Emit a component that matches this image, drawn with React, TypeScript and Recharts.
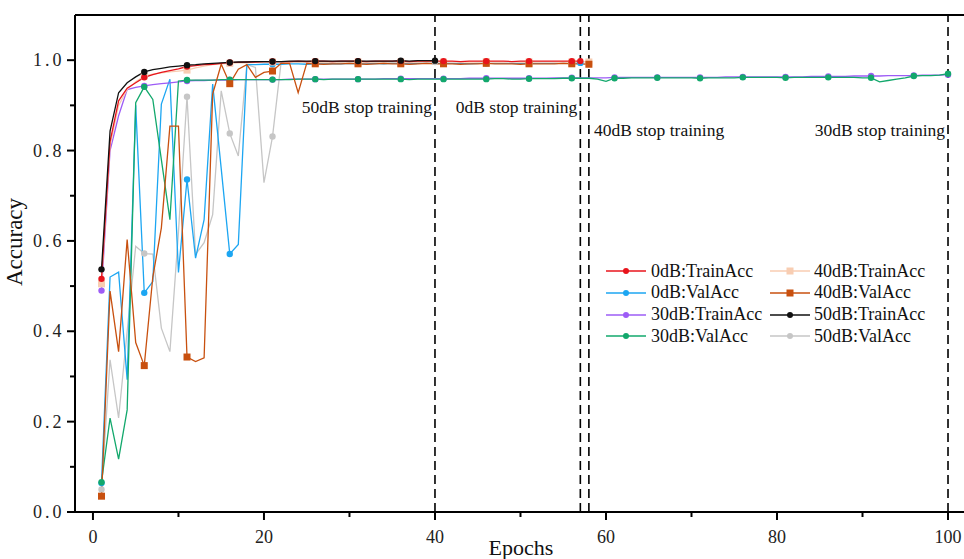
import { LineChart, Line, XAxis, YAxis, ReferenceLine } from 'recharts';

const FONT = "'Liberation Serif', 'Times New Roman', serif";

const epochs = Array.from({ length: 100 }, (_, i) => i + 1);
const xTicks = [0, 10, 20, 30, 40, 50, 60, 70, 80, 90, 100];
const yTicks = [0, 0.1, 0.2, 0.3, 0.4, 0.5, 0.6, 0.7, 0.8, 0.9, 1.0];

const train0 = [
  0.516, 0.82, 0.91, 0.938, 0.95, 0.962, 0.968, 0.973, 0.977, 0.981,
  0.986, 0.988, 0.99, 0.991, 0.993, 0.995, 0.995, 0.996, 0.996, 0.997,
  0.997, 0.997, 0.997, 0.998, 0.997, 0.998, 0.998, 0.997, 0.998, 0.998,
  0.998, 0.997, 0.998, 0.998, 0.998, 0.998, 0.997, 0.998, 0.998, 0.998,
  0.998, 0.998, 0.997, 0.998, 0.998, 0.998, 0.998, 0.998, 0.997, 0.998,
  0.998, 0.998, 0.998, 0.998, 0.998, 0.998, 0.998,
];
const val0 = [
  0.064, 0.52, 0.531, 0.293, 0.9, 0.485, 0.51, 0.903, 0.958, 0.53,
  0.736, 0.562, 0.647, 0.947, 0.76, 0.571, 0.592, 0.99, 0.99, 0.991,
  0.991, 0.991, 0.992, 0.992, 0.991, 0.992, 0.992, 0.992, 0.992, 0.993,
  0.992, 0.992, 0.993, 0.992, 0.993, 0.993, 0.992, 0.993, 0.993, 0.993,
  0.993, 0.993, 0.993, 0.992, 0.993, 0.993, 0.993, 0.993, 0.993, 0.993,
  0.993, 0.993, 0.993, 0.993, 0.993, 0.993, 0.994,
];
const train30 = [
  0.49, 0.8, 0.877, 0.935, 0.94, 0.943, 0.946, 0.948, 0.95, 0.952,
  0.954, 0.955, 0.955, 0.956, 0.956, 0.956, 0.957, 0.957, 0.957, 0.957,
  0.957, 0.957, 0.958, 0.958, 0.958, 0.958, 0.958, 0.958, 0.958, 0.958,
  0.958, 0.958, 0.958, 0.959, 0.959, 0.959, 0.959, 0.959, 0.959, 0.959,
  0.959, 0.959, 0.959, 0.96, 0.96, 0.96, 0.96, 0.96, 0.96, 0.96,
  0.96, 0.96, 0.96, 0.961, 0.961, 0.961, 0.961, 0.961, 0.961, 0.961,
  0.962, 0.962, 0.962, 0.962, 0.962, 0.962, 0.962, 0.962, 0.962, 0.962,
  0.962, 0.962, 0.962, 0.963, 0.963, 0.963, 0.963, 0.963, 0.963, 0.963,
  0.963, 0.963, 0.963, 0.964, 0.964, 0.964, 0.964, 0.964, 0.965, 0.965,
  0.965, 0.965, 0.966, 0.966, 0.966, 0.966, 0.967, 0.967, 0.967, 0.968,
];
const val30 = [
  0.066, 0.208, 0.117, 0.226, 0.906, 0.941, 0.913, 0.78, 0.647, 0.954,
  0.956, 0.956, 0.956, 0.956, 0.957, 0.957, 0.957, 0.957, 0.957, 0.957,
  0.957, 0.957, 0.957, 0.958, 0.958, 0.958, 0.957, 0.958, 0.958, 0.958,
  0.958, 0.958, 0.958, 0.958, 0.958, 0.958, 0.957, 0.958, 0.958, 0.958,
  0.958, 0.958, 0.958, 0.958, 0.958, 0.958, 0.959, 0.959, 0.958, 0.958,
  0.959, 0.959, 0.959, 0.959, 0.96, 0.96, 0.96, 0.96, 0.958, 0.953,
  0.96, 0.96, 0.961, 0.961, 0.961, 0.961, 0.961, 0.961, 0.961, 0.961,
  0.96, 0.961, 0.961, 0.961, 0.961, 0.962, 0.962, 0.962, 0.962, 0.962,
  0.961, 0.962, 0.962, 0.962, 0.962, 0.962, 0.962, 0.962, 0.962, 0.961,
  0.961, 0.952, 0.955, 0.958, 0.961, 0.965, 0.966, 0.966, 0.967, 0.97,
];
const train40 = [
  0.505, 0.81, 0.9, 0.935, 0.952, 0.965, 0.969, 0.972, 0.974, 0.976,
  0.978, 0.983, 0.987, 0.99, 0.992, 0.993, 0.994, 0.994, 0.995, 0.995,
  0.996, 0.996, 0.996, 0.996, 0.996, 0.996, 0.996, 0.996, 0.996, 0.996,
  0.996, 0.996, 0.996, 0.996, 0.997, 0.996, 0.996, 0.996, 0.997, 0.996,
  0.996, 0.997, 0.996, 0.996, 0.996, 0.997, 0.996, 0.996, 0.997, 0.996,
  0.996, 0.996, 0.997, 0.996, 0.996, 0.996, 0.997, 0.996,
];
const val40 = [
  0.035, 0.489, 0.355, 0.603, 0.375, 0.324, 0.52, 0.629, 0.854, 0.854,
  0.343, 0.333, 0.341, 0.925, 0.991, 0.948, 0.98, 0.99, 0.962, 0.973,
  0.976, 0.993, 0.993, 0.928, 0.993, 0.992, 0.991, 0.992, 0.992, 0.993,
  0.992, 0.991, 0.992, 0.993, 0.992, 0.992, 0.991, 0.992, 0.993, 0.992,
  0.992, 0.992, 0.991, 0.992, 0.992, 0.993, 0.992, 0.992, 0.992, 0.991,
  0.992, 0.992, 0.992, 0.992, 0.993, 0.992, 0.992, 0.991,
];
const train50 = [
  0.537, 0.843, 0.928, 0.95, 0.963, 0.974, 0.979, 0.982, 0.985, 0.987,
  0.989, 0.99, 0.992, 0.993, 0.994, 0.995, 0.996, 0.996, 0.997, 0.997,
  0.997, 0.997, 0.998, 0.998, 0.998, 0.998, 0.998, 0.998, 0.998, 0.998,
  0.998, 0.998, 0.998, 0.998, 0.998, 0.999, 0.998, 0.999, 0.999, 0.999,
];
const val50 = [
  0.05, 0.337, 0.208, 0.4, 0.588, 0.572, 0.571, 0.407, 0.355, 0.62,
  0.919, 0.57, 0.596, 0.658, 0.932, 0.838, 0.788, 0.99, 0.984, 0.729,
  0.831, 0.995, 0.995, 0.995, 0.996, 0.995, 0.996, 0.996, 0.995, 0.996,
  0.996, 0.996, 0.996, 0.995, 0.996, 0.996, 0.996, 0.996, 0.996, 0.996,
];

// draw order; the legend lists them column by column in legendOrder
const series = [
  { key: 'val50', name: '50dB:ValAcc', color: '#c6c6c6', values: val50, square: false },
  { key: 'val0', name: '0dB:ValAcc', color: '#1ca6f2', values: val0, square: false },
  { key: 'train30', name: '30dB:TrainAcc', color: '#9d5cf6', values: train30, square: false },
  { key: 'val30', name: '30dB:ValAcc', color: '#12a86c', values: val30, square: false },
  { key: 'train40', name: '40dB:TrainAcc', color: '#f8cdb2', values: train40, square: true },
  { key: 'val40', name: '40dB:ValAcc', color: '#c8500f', values: val40, square: true },
  { key: 'train0', name: '0dB:TrainAcc', color: '#e8141c', values: train0, square: false },
  { key: 'train50', name: '50dB:TrainAcc', color: '#111111', values: train50, square: false },
];

const legendOrder = ['train0', 'val0', 'train30', 'val30', 'train40', 'val40', 'train50', 'val50'];

const stopLabels = [
  { epoch: 40, text: '50dB stop training', side: 'left', y: 113 },
  { epoch: 57, text: '0dB stop training', side: 'left', y: 113 },
  { epoch: 58, text: '40dB stop training', side: 'right', y: 136 },
  { epoch: 100, text: '30dB stop training', side: 'left', y: 136 },
];

const tableData = epochs.map((epoch, i) => {
  const row: Record<string, number | null> = { epoch };
  series.forEach((s) => {
    row[s.key] = i < s.values.length ? s.values[i] : null;
  });
  return row;
});

const PLOT_LEFT = 75;
const PLOT_BOTTOM = 512;

const makeDot = (color: string, square: boolean, last: number) => (props: any) => {
  const { cx, cy, index, value } = props;
  if (value == null || cx == null || (index % 5 !== 0 && index !== last)) {
    return <g key={`d-${index}`} />;
  }
  if (square) {
    return <rect key={`d-${index}`} x={cx - 3.5} y={cy - 3.5} width={7} height={7} fill={color} />;
  }
  return <circle key={`d-${index}`} cx={cx} cy={cy} r={3.2} fill={color} />;
};

const YTick = (props: any) => {
  const v = props.payload.value;
  const y = props.payload.coordinate;
  const major = Math.round(v * 10) % 2 === 0;
  return (
    <g>
      <line x1={PLOT_LEFT - (major ? 8 : 5)} x2={PLOT_LEFT} y1={y} y2={y} stroke="#000" strokeWidth={2} />
      {major && (
        <text x={33} y={y + 6} textAnchor="start" fontFamily={FONT} fontSize={18} letterSpacing={3} fill="#222">
          {v.toFixed(1)}
        </text>
      )}
    </g>
  );
};

const XTick = (props: any) => {
  const v = props.payload.value;
  const x = props.payload.coordinate;
  const major = v % 20 === 0;
  return (
    <g>
      <line x1={x} x2={x} y1={PLOT_BOTTOM} y2={PLOT_BOTTOM + (major ? 8 : 5)} stroke="#000" strokeWidth={2} />
      {major && (
        <text x={x} y={543} textAnchor="middle" fontFamily={FONT} fontSize={18} fill="#222">
          {v}
        </text>
      )}
    </g>
  );
};

const LegendSample = ({ color, square }: { color: string; square: boolean }) => (
  <svg width={40} height={12} style={{ display: 'block' }}>
    <line x1={0} x2={40} y1={6} y2={6} stroke={color} strokeWidth={1.6} />
    {square ? <rect x={16.5} y={2.5} width={7} height={7} fill={color} /> : <circle cx={20} cy={6} r={3} fill={color} />}
  </svg>
);

export default function App() {
  return (
    <div style={{ position: 'fixed', left: 0, top: 0, width: 964, height: 559, background: '#fff' }}>
      <LineChart width={964} height={559} data={tableData} margin={{ top: 15, right: 0, bottom: 0, left: 0 }}>
        <XAxis
          dataKey="epoch"
          type="number"
          domain={[-2.1, 101.87]}
          ticks={xTicks}
          interval={0}
          height={47}
          axisLine={{ stroke: '#000', strokeWidth: 2 }}
          tickLine={false}
          tick={<XTick />}
          allowDataOverflow
          label={() => (
            <text x={521} y={555} textAnchor="middle" fontFamily={FONT} fontSize={22} fill="#111">
              Epochs
            </text>
          )}
        />
        <YAxis
          type="number"
          domain={[0, 1.1]}
          ticks={yTicks}
          interval={0}
          width={75}
          axisLine={{ stroke: '#000', strokeWidth: 2 }}
          tickLine={false}
          tick={<YTick />}
          allowDataOverflow
          label={() => (
            <text x={22} y={242} transform="rotate(-90 22 242)" textAnchor="middle" fontFamily={FONT} fontSize={23} fill="#111">
              Accuracy
            </text>
          )}
        />
        <ReferenceLine y={1.1} stroke="#000" strokeWidth={2} />
        {stopLabels.map((s) => (
          <ReferenceLine
            key={s.epoch}
            x={s.epoch}
            stroke="#000"
            strokeWidth={1.6}
            strokeDasharray="9 5"
            label={(p: any) => (
              <text
                x={s.side === 'left' ? p.viewBox.x - 3 : p.viewBox.x + 5}
                y={s.y}
                textAnchor={s.side === 'left' ? 'end' : 'start'}
                fontFamily={FONT}
                fontSize={17.5}
                fill="#111"
              >
                {s.text}
              </text>
            )}
          />
        ))}
        {series.map((s) => (
          <Line
            key={s.key}
            dataKey={s.key}
            stroke={s.color}
            strokeWidth={1.3}
            dot={makeDot(s.color, s.square, s.values.length - 1)}
            activeDot={false}
            isAnimationActive={false}
            connectNulls={false}
          />
        ))}
      </LineChart>
      {legendOrder.map((key, i) => {
        const s = series.find((d) => d.key === key)!;
        const col = Math.floor(i / 4);
        const row = i % 4;
        return (
          <div
            key={key}
            style={{
              position: 'absolute',
              left: col === 0 ? 606 : 770,
              top: 271 + row * 21.8 - 11,
              height: 22,
              display: 'flex',
              alignItems: 'center',
              fontFamily: FONT,
              fontSize: 18,
              color: '#111',
              whiteSpace: 'nowrap',
            }}
          >
            <LegendSample color={s.color} square={s.square} />
            <span style={{ marginLeft: col === 0 ? 5 : 4 }}>{s.name}</span>
          </div>
        );
      })}
    </div>
  );
}
